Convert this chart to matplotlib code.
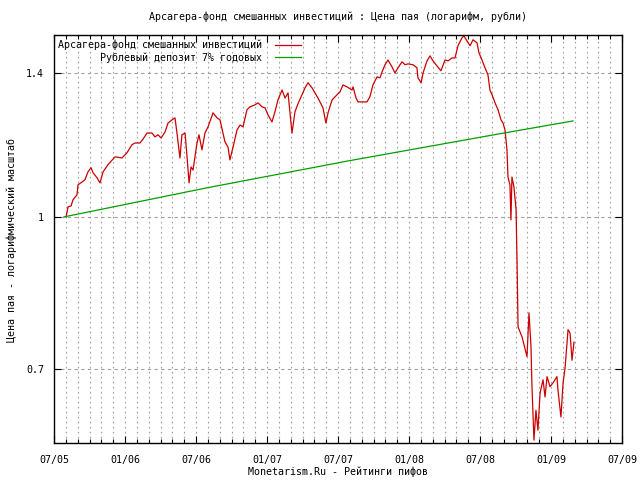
import matplotlib
matplotlib.use("Agg")
import matplotlib.pyplot as plt
import numpy as np
from matplotlib.ticker import FixedLocator, NullFormatter, NullLocator

plt.rcParams['font.family'] = ['DejaVu Sans Mono', 'DejaVu Sans']

# ---- data (decimal years, share price) ----
fund_t = [2005.585, 2005.599, 2005.620, 2005.634, 2005.662, 2005.669, 2005.697, 2005.718, 2005.739, 2005.761,
          2005.775, 2005.803, 2005.824, 2005.845, 2005.880, 2005.930, 2005.979, 2006.014, 2006.049, 2006.070,
          2006.106, 2006.127, 2006.155, 2006.190, 2006.211, 2006.232, 2006.254, 2006.282, 2006.303, 2006.331,
          2006.352, 2006.366, 2006.387, 2006.401, 2006.423, 2006.437, 2006.451, 2006.465, 2006.479, 2006.507,
          2006.521, 2006.542, 2006.563, 2006.585, 2006.620, 2006.648, 2006.669, 2006.690, 2006.704, 2006.725,
          2006.739, 2006.761, 2006.789, 2006.810, 2006.831, 2006.859, 2006.880, 2006.915, 2006.937, 2006.965,
          2006.986, 2007.007, 2007.035, 2007.056, 2007.077, 2007.106, 2007.127, 2007.148, 2007.176, 2007.197,
          2007.218, 2007.246, 2007.268, 2007.289, 2007.317, 2007.338, 2007.359, 2007.394, 2007.415, 2007.430,
          2007.458, 2007.493, 2007.514, 2007.535, 2007.563, 2007.599, 2007.606, 2007.627, 2007.641, 2007.669,
          2007.704, 2007.725, 2007.746, 2007.775, 2007.796, 2007.810, 2007.831, 2007.852, 2007.880, 2007.901,
          2007.923, 2007.951, 2007.972, 2007.993, 2008.028, 2008.056, 2008.063, 2008.085, 2008.099, 2008.127,
          2008.148, 2008.169, 2008.197, 2008.225, 2008.254, 2008.275, 2008.303, 2008.324, 2008.345, 2008.373,
          2008.387, 2008.408, 2008.430, 2008.451, 2008.479, 2008.493, 2008.514, 2008.535, 2008.556, 2008.570,
          2008.585, 2008.606, 2008.627, 2008.648, 2008.662, 2008.676, 2008.690, 2008.697, 2008.711, 2008.718,
          2008.725, 2008.739, 2008.754, 2008.761, 2008.768, 2008.796, 2008.831, 2008.845, 2008.859, 2008.866,
          2008.880, 2008.894, 2008.908, 2008.923, 2008.944, 2008.958, 2008.972, 2008.993, 2009.014, 2009.042,
          2009.049, 2009.070, 2009.085, 2009.099, 2009.120, 2009.134, 2009.148, 2009.162]
fund_v = [1.000, 1.024, 1.026, 1.041, 1.053, 1.078, 1.085, 1.091, 1.111, 1.122,
          1.109, 1.096, 1.083, 1.111, 1.130, 1.151, 1.148, 1.162, 1.184, 1.189,
          1.189, 1.200, 1.217, 1.217, 1.206, 1.212, 1.203, 1.220, 1.246, 1.255,
          1.261, 1.217, 1.148, 1.212, 1.217, 1.151, 1.083, 1.124, 1.116, 1.189,
          1.212, 1.170, 1.217, 1.235, 1.276, 1.261, 1.255, 1.217, 1.192, 1.178,
          1.143, 1.178, 1.226, 1.240, 1.235, 1.285, 1.294, 1.300, 1.306, 1.294,
          1.291, 1.270, 1.249, 1.279, 1.315, 1.346, 1.321, 1.337, 1.217, 1.279,
          1.303, 1.331, 1.353, 1.369, 1.353, 1.337, 1.321, 1.291, 1.246, 1.276,
          1.315, 1.331, 1.340, 1.362, 1.356, 1.346, 1.356, 1.321, 1.309, 1.309,
          1.309, 1.325, 1.362, 1.388, 1.385, 1.404, 1.428, 1.444, 1.421, 1.401,
          1.418, 1.438, 1.428, 1.431, 1.428, 1.418, 1.385, 1.369, 1.401, 1.441,
          1.458, 1.441, 1.424, 1.408, 1.444, 1.441, 1.451, 1.451, 1.493, 1.521,
          1.528, 1.510, 1.493, 1.514, 1.503, 1.468, 1.444, 1.418, 1.395, 1.346,
          1.331, 1.306, 1.285, 1.255, 1.246, 1.226, 1.170, 1.098, 1.078, 0.993,
          1.098, 1.073, 1.017, 0.898, 0.773, 0.755, 0.721, 0.799, 0.738, 0.672,
          0.593, 0.636, 0.607, 0.662, 0.683, 0.656, 0.688, 0.672, 0.678, 0.688,
          0.667, 0.626, 0.678, 0.702, 0.768, 0.762, 0.715, 0.746]

deposit_t = [2005.570, 2006.570, 2007.570, 2008.570, 2009.155]
deposit_v = [1.000, 1.070, 1.140, 1.210, 1.252]

xtick_pos = [2005.5, 2006.0, 2006.5, 2007.0, 2007.5, 2008.0, 2008.5, 2009.0, 2009.5]
xtick_labels = ["07/05", "01/06", "07/06", "01/07", "07/07", "01/08", "07/08", "01/09", "07/09"]
ytick_pos = [0.7, 1.0, 1.4]
ytick_labels = ["0.7", "1", "1.4"]

title = "Арсагера-фонд смешанных инвестиций : Цена пая (логарифм, рубли)"
series_names = ["Арсагера-фонд смешанных инвестиций", "Рублевый депозит 7% годовых"]
xlabel = "Monetarism.Ru - Рейтинги пифов"
ylabel = "Цена пая - логарифмический масштаб"

FS = 7.2
fig = plt.figure(figsize=(6.4, 4.8), dpi=100)
ax = fig.add_axes([54/640, 37/480, 568/640, 408/480])

ax.plot(fund_t, fund_v, color="#cc0000", lw=0.9, label=series_names[0])
ax.plot(deposit_t, deposit_v, color="#00a000", lw=0.9, label=series_names[1])

ax.set_yscale("log")
ax.set_xlim(2005.5, 2009.5)
ax.set_ylim(0.589, 1.531)

ax.xaxis.set_major_locator(FixedLocator(xtick_pos))
ax.set_xticklabels(xtick_labels, fontsize=FS)
minor = [2005.5 + i / 12 for i in range(49)]
ax.xaxis.set_minor_locator(FixedLocator(minor))
ax.yaxis.set_major_locator(FixedLocator(ytick_pos))
ax.yaxis.set_minor_locator(NullLocator())
ax.yaxis.set_minor_formatter(NullFormatter())
ax.set_yticklabels(ytick_labels, fontsize=FS)

ax.tick_params(which="both", direction="in", top=True, right=True, width=0.8)
ax.tick_params(axis="x", which="major", length=5, pad=9)
ax.tick_params(axis="y", which="major", length=5, pad=7)
ax.tick_params(which="minor", length=3)

ax.grid(True, which="both", axis="x", color="#a0a0a0", linestyle=(0, (1.5, 3)), lw=0.8)
ax.grid(True, which="major", axis="y", color="#a0a0a0", linestyle=(0, (3, 3)), lw=0.8)

for s in ax.spines.values():
    s.set_linewidth(1.0)
    s.set_color("black")

fig.text(338/640, 1 - 17/480, title, fontsize=FS, ha="center", va="center")
fig.text(338/640, 1 - 472/480, xlabel, fontsize=FS, ha="center", va="center")
fig.text(12/640, 1 - 240/480, ylabel, fontsize=FS, ha="center", va="center", rotation=90)

leg = ax.legend(loc="upper left", frameon=False, markerfirst=False, fontsize=FS,
                handlelength=2.6, handletextpad=1.2, labelspacing=0.2,
                borderaxespad=0.2, borderpad=0.25)

fig.savefig("out.png", dpi=100)
